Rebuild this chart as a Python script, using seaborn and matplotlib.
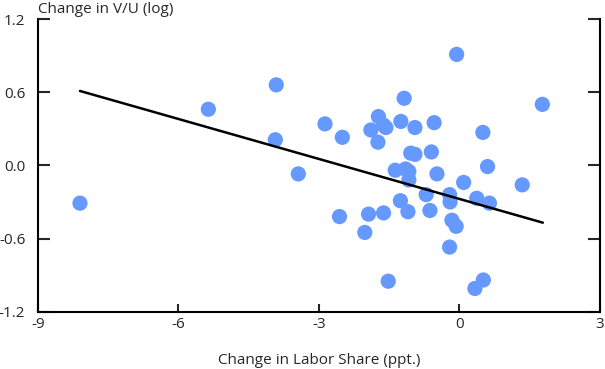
import numpy as np
import pandas as pd
import matplotlib
matplotlib.use("Agg")
import matplotlib.pyplot as plt
import seaborn as sns

# values
labor_share_change = [
    -8.10, -5.36, -3.91, -3.93, -3.44, -2.87, -2.50, -2.56, -2.02, -1.94,
    -1.62, -1.52, -1.26, -1.10, -0.63, -0.71, -0.21, -0.20, -0.16, -0.07,
    -0.21, 0.37, 0.33, 0.51, 0.64, 0.09, 1.34, 0.60, 0.50, 1.77,
    -0.06, -0.48, -1.18, -1.73, -1.62, -1.57, -1.89, -1.25, -0.95, -0.54,
    -1.74, -1.04, -0.95, -0.60, -1.37, -1.15, -1.08, -1.08,
]
vu_change = [
    -0.31, 0.46, 0.66, 0.21, -0.07, 0.34, 0.23, -0.42, -0.55, -0.40,
    -0.39, -0.95, -0.29, -0.38, -0.37, -0.24, -0.24, -0.30, -0.45, -0.50,
    -0.67, -0.27, -1.01, -0.94, -0.31, -0.14, -0.16, -0.01, 0.27, 0.50,
    0.91, -0.07, 0.55, 0.40, 0.33, 0.31, 0.29, 0.36, 0.31, 0.35,
    0.19, 0.10, 0.09, 0.11, -0.04, -0.03, -0.05, -0.12,
]
# fitted line as shown in the chart (end points)
fit_x = [-8.10, 1.78]
fit_y = [0.61, -0.47]

x_ticks = [-9, -6, -3, 0, 3]
y_ticks = [-1.2, -0.6, 0.0, 0.6, 1.2]

df = pd.DataFrame({"labor": labor_share_change, "vu": vu_change})
fit = pd.DataFrame({"labor": fit_x, "vu": fit_y})

sns.set_style("white")
plt.rcParams["font.family"] = ["Open Sans", "DejaVu Sans"]

fig = plt.figure(figsize=(6.05, 3.69), dpi=100)
ax = fig.add_axes([0.0625, 0.1553, 0.9292, 0.7932])

sns.scatterplot(data=df, x="labor", y="vu", color="#6699ff", s=120,
                edgecolor="none", ax=ax, zorder=2)
sns.lineplot(data=fit, x="labor", y="vu", color="black", linewidth=1.8,
             ax=ax, zorder=3)

ax.set_xlim(-9, 3)
ax.set_ylim(-1.2, 1.2)
ax.set_xticks(x_ticks)
ax.set_xticklabels([f"{t:d}" for t in x_ticks])
ax.set_yticks(y_ticks)
ax.set_yticklabels([f"{t:.1f}" for t in y_ticks])

for side in ["left", "bottom", "right"]:
    ax.spines[side].set_visible(True)
    ax.spines[side].set_color("black")
    ax.spines[side].set_linewidth(1.5)
ax.spines["top"].set_visible(False)

ax.tick_params(axis="y", which="both", direction="in", length=8.5, width=1.5,
               left=True, right=True, labelsize=11, pad=9)
ax.tick_params(axis="x", direction="in", length=6, width=1.5,
               bottom=True, labelsize=11, pad=4)

ax.set_xlabel("Change in Labor Share (ppt.)", fontsize=11, labelpad=15)
ax.set_ylabel("")
fig.text(0.0628, 0.9648, "Change in V/U (log)", fontsize=11, ha="left", va="baseline")

fig.savefig("out.png", dpi=100)
